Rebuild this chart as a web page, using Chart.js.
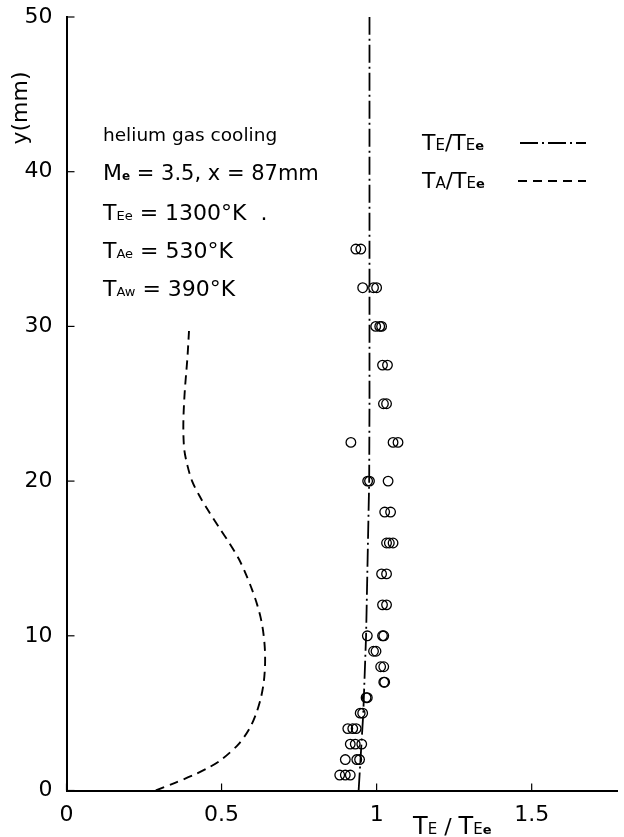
<!DOCTYPE html>
<html>
<head>
<meta charset="utf-8">
<script src="https://cdn.jsdelivr.net/npm/chart.js@4.4.1/dist/chart.umd.min.js"></script>
<style>
  html, body { margin: 0; padding: 0; background: #fff; }
  #wrap { width: 624px; height: 837px; }
</style>
</head>
<body>
<div id="wrap"><canvas id="chart" width="624" height="837"></canvas></div>
<script>
// measured circles, one row per height y (mm), TE/TEe readings in each row
const rowY = [35, 32.5, 30, 27.5, 25, 22.5, 20, 18, 16, 14, 12, 10, 9, 8, 7, 6, 5, 4, 3, 2, 1];
const rowX = [
  [0.933, 0.949],
  [0.955, 0.990, 1.000],
  [0.997, 1.010, 1.016],
  [1.019, 1.035],
  [1.022, 1.032],
  [0.917, 1.053, 1.069],
  [0.971, 0.977, 1.037],
  [1.026, 1.045],
  [1.032, 1.041, 1.053],
  [1.016, 1.032],
  [1.019, 1.032],
  [0.970, 1.019, 1.023],
  [0.990, 0.998],
  [1.013, 1.023],
  [1.023, 1.026],
  [0.966, 0.970],
  [0.947, 0.955],
  [0.907, 0.923, 0.934],
  [0.915, 0.931, 0.952],
  [0.899, 0.936, 0.945],
  [0.881, 0.899, 0.915]
];

// TE/TEe curve (dash-dot)
const teY = [0, 5, 10, 15, 20, 25, 30, 35, 40, 45, 50];
const teX = [0.942, 0.957, 0.966, 0.971, 0.976, 0.977, 0.977, 0.977, 0.977, 0.977, 0.977];

// TA/TEe curve (dashed)
const taY = [0, 0.5, 1, 1.5, 2, 3, 4, 5, 6, 7, 8, 9, 10, 11, 12, 13, 14, 15, 16, 17, 18, 19, 20, 21, 22, 23, 24, 25, 26, 27, 28, 29, 29.7];
const taX = [0.288, 0.35, 0.41, 0.46, 0.50, 0.555, 0.59, 0.612, 0.627, 0.636, 0.64, 0.64, 0.636, 0.628, 0.615, 0.598, 0.578, 0.555, 0.525, 0.492, 0.46, 0.43, 0.405, 0.39, 0.38, 0.377, 0.377, 0.379, 0.382, 0.386, 0.39, 0.393, 0.395];

const xTicks = [0, 0.5, 1, 1.5];
const xTickLabels = ['0', '0.5', '1', '1.5'];
const yTicks = [0, 10, 20, 30, 40, 50];

const FONT = '"DejaVu Sans", sans-serif';

const points = [];
rowY.forEach((y, i) => rowX[i].forEach(x => points.push({ x: x, y: y })));
const teData = teY.map((y, i) => ({ x: teX[i], y: y }));
const taData = taY.map((y, i) => ({ x: taX[i], y: y }));

function rich(ctx, x, y, parts) {
  parts.forEach(p => {
    ctx.font = (p[2] || 'normal') + ' ' + p[1] + 'px ' + FONT;
    ctx.fillText(p[0], x, y);
    x += ctx.measureText(p[0]).width;
  });
}

const decor = {
  id: 'decor',
  afterDraw(chart) {
    const ctx = chart.ctx;
    const xs = chart.scales.x, ys = chart.scales.y;
    const a = chart.chartArea;
    ctx.save();
    ctx.strokeStyle = '#000';
    ctx.fillStyle = '#000';
    ctx.lineWidth = 1.2;
    // inward tick marks
    xTicks.forEach(v => {
      const px = xs.getPixelForValue(v);
      ctx.beginPath(); ctx.moveTo(px, a.bottom); ctx.lineTo(px, a.bottom - 7); ctx.stroke();
    });
    yTicks.forEach(v => {
      const py = ys.getPixelForValue(v);
      ctx.beginPath(); ctx.moveTo(a.left, py); ctx.lineTo(a.left + 8, py); ctx.stroke();
    });

    ctx.textBaseline = 'alphabetic';
    // notes
    rich(ctx, 103, 141, [['helium gas cooling', 18.5]]);
    rich(ctx, 103, 180, [['M', 22], ['e', 12, 'bold'], [' = 3.5, x = 87mm', 21]]);
    rich(ctx, 103, 220, [['T', 22], ['Ee', 13], [' = 1300°K  .', 22]]);
    rich(ctx, 103, 258, [['T', 22], ['Ae', 13], [' = 530°K', 22]]);
    rich(ctx, 103, 296, [['T', 22], ['Aw', 13], [' = 390°K', 22]]);

    // legend
    rich(ctx, 422, 150, [['T', 22], ['E', 15], ['/', 22], ['T', 22], ['E', 15], ['e', 13, 'bold']]);
    rich(ctx, 422, 188, [['T', 22], ['A', 15], ['/', 22], ['T', 22], ['E', 15], ['e', 13, 'bold']]);
    const ds = chart.data.datasets;
    ctx.lineWidth = 1.8;
    ctx.setLineDash(ds[0].borderDash);
    ctx.beginPath(); ctx.moveTo(520, 143); ctx.lineTo(586, 143); ctx.stroke();
    ctx.setLineDash(ds[1].borderDash);
    ctx.beginPath(); ctx.moveTo(518, 181); ctx.lineTo(586, 181); ctx.stroke();
    ctx.setLineDash([]);

    // axis titles
    rich(ctx, 413, 834, [['T', 24], ['E', 15], [' / ', 22], ['T', 24], ['E', 15], ['e', 13, 'bold']]);
    ctx.save();
    ctx.translate(27, 108);
    ctx.rotate(-Math.PI / 2);
    ctx.textAlign = 'center';
    ctx.font = '22px ' + FONT;
    ctx.fillText('y(mm)', 0, 0);
    ctx.restore();
    ctx.restore();
  }
};

new Chart(document.getElementById('chart').getContext('2d'), {
  type: 'scatter',
  data: {
    datasets: [
      {
        label: 'TE/TEe',
        data: teData,
        showLine: true,
        borderColor: '#000',
        borderWidth: 1.8,
        borderDash: [18, 4, 2, 4],
        pointRadius: 0,
        tension: 0
      },
      {
        label: 'TA/TEe',
        data: taData,
        showLine: true,
        borderColor: '#000',
        borderWidth: 1.9,
        borderDash: [9, 6],
        pointRadius: 0,
        tension: 0.3
      },
      {
        label: 'measured',
        data: points,
        showLine: false,
        pointRadius: 4.8,
        pointBorderWidth: 1.3,
        borderColor: '#000',
        backgroundColor: 'rgba(0,0,0,0)'
      }
    ]
  },
  options: {
    responsive: false,
    animation: false,
    layout: { padding: { top: 17, right: 0, left: 0, bottom: 0 } },
    plugins: { legend: { display: false }, tooltip: { enabled: false } },
    scales: {
      x: {
        type: 'linear',
        min: 0,
        max: 1.778,
        grid: { display: false },
        border: { display: true, color: '#000', width: 2 },
        afterBuildTicks: s => { s.ticks = xTicks.map(v => ({ value: v })); },
        afterFit: s => { s.height = 46.5; s.paddingLeft = 0; s.paddingRight = 0; },
        ticks: {
          color: '#000',
          padding: 4,
          maxRotation: 0,
          autoSkip: false,
          font: { family: FONT, size: 22 },
          callback: v => xTickLabels[xTicks.indexOf(v)]
        }
      },
      y: {
        type: 'linear',
        min: 0,
        max: 50,
        grid: { display: false },
        border: { display: true, color: '#000', width: 2 },
        afterBuildTicks: s => { s.ticks = yTicks.map(v => ({ value: v })); },
        afterFit: s => { s.width = 66.5; s.paddingTop = 0; s.paddingBottom = 0; },
        ticks: {
          color: '#000',
          padding: 6,
          autoSkip: false,
          font: { family: FONT, size: 22 }
        }
      }
    }
  },
  plugins: [decor]
});
</script>
</body>
</html>
